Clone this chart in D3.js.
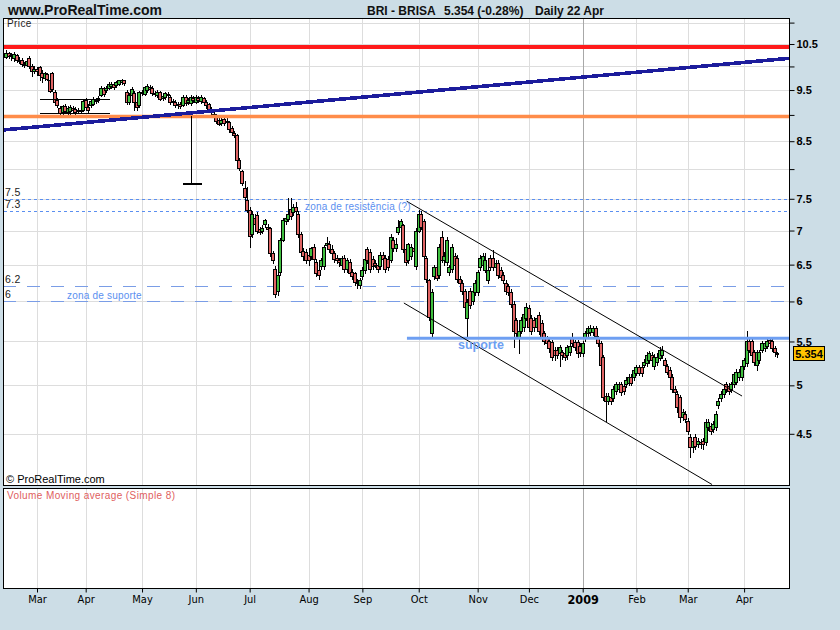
<!DOCTYPE html>
<html><head><meta charset="utf-8">
<script src="https://cdnjs.cloudflare.com/ajax/libs/d3/7.8.5/d3.min.js"></script>
<style>body{margin:0;background:#ccdde6;} svg{display:block;}</style>
</head><body><svg id="c" width="840" height="630"></svg>
<script>
// ---------- DATA ----------
const firstDay = "2008-02-14", lastDay = "2009-04-22";
const holidays = ["2008-03-21","2008-03-24","2008-05-01","2008-12-25","2008-12-26","2009-01-01","2009-04-10","2009-04-13"];
const monthLabels = ["Mar","Apr","May","Jun","Jul","Aug","Sep","Oct","Nov","Dec","2009","Feb","Mar","Apr"];
const yTicks = [11,10.5,10,9.5,9,8.5,8,7.5,7,6.5,6,5.5,5,4.5];
const yLabels = [10.5,9.5,8.5,7.5,7,6.5,6,5.5,5,4.5];

const open = [10.20,10.30,10.22,10.18,10.25,10.15,10.14,10.06,10.04,10.18,10.02,9.90,9.94,9.98,9.86,9.76,9.84,9.72,9.85,9.46,
9.30,9.14,9.06,9.18,9.06,9.08,9.14,9.12,9.08,9.10,9.10,9.30,9.16,9.20,9.22,9.28,9.30,9.40,9.54,9.50,
9.55,9.58,9.62,9.60,9.62,9.66,9.70,9.46,9.26,9.40,9.44,9.26,9.20,9.44,9.42,9.50,9.56,9.54,9.44,9.40,
9.46,9.34,9.36,9.42,9.36,9.26,9.26,9.20,9.22,9.20,9.36,9.26,9.24,9.34,9.26,9.34,9.28,9.34,9.26,9.22,
9.12,9.02,8.98,8.90,8.84,8.92,8.86,8.86,8.74,8.66,8.62,8.16,7.96,7.68,7.48,7.32,6.94,7.20,7.24,7.02,
7.00,7.10,7.06,7.04,6.66,6.44,6.14,6.40,6.86,7.14,7.18,7.34,7.28,7.36,7.26,6.94,6.70,6.68,6.64,6.62,
6.76,6.54,6.42,6.48,6.48,6.78,6.80,6.72,6.66,6.60,6.56,6.50,6.60,6.44,6.54,6.40,6.38,6.26,6.22,6.34,
6.42,6.72,6.68,6.58,6.52,6.50,6.48,6.64,6.60,6.58,6.57,6.86,6.74,6.98,7.06,7.08,6.72,6.56,6.62,6.74,
6.48,7.00,7.26,7.14,6.60,6.28,5.60,6.34,6.46,6.36,6.90,6.56,6.54,6.40,6.44,6.62,6.60,6.30,6.24,6.14,
5.79,6.14,6.01,6.13,6.13,6.47,6.50,6.43,6.29,6.60,6.60,6.46,6.53,6.43,6.36,6.25,6.20,6.13,5.97,5.76,
5.55,5.63,5.67,5.79,5.91,5.79,5.76,5.67,5.82,5.72,5.60,5.54,5.51,5.49,5.40,5.40,5.36,5.37,5.36,5.34,
5.37,5.54,5.49,5.49,5.45,5.36,5.54,5.60,5.61,5.62,5.66,5.54,5.48,5.32,4.89,4.83,4.88,4.86,4.94,4.96,
5.01,4.99,5.01,5.03,5.09,5.09,5.14,5.20,5.20,5.23,5.25,5.28,5.34,5.21,5.26,5.31,5.34,5.28,5.21,5.17,
5.09,4.96,4.91,4.88,4.67,4.70,4.63,4.47,4.37,4.47,4.40,4.42,4.43,4.42,4.57,4.58,4.55,4.57,4.79,4.86,
4.91,5.01,4.99,4.96,5.01,5.04,5.09,5.09,5.21,5.25,5.51,5.51,5.37,5.23,5.28,5.40,5.42,5.45,5.52,5.51,
5.42,5.36];
const high = [10.36,10.33,10.30,10.32,10.28,10.20,10.18,10.10,10.15,10.22,10.05,10.00,9.98,10.00,9.92,9.88,9.86,9.75,9.88,9.50,
9.34,9.18,9.20,9.22,9.18,9.20,9.18,9.16,9.14,9.12,9.32,9.34,9.22,9.30,9.36,9.34,9.38,9.58,9.56,9.58,
9.66,9.66,9.66,9.68,9.72,9.74,9.72,9.50,9.44,9.56,9.48,9.30,9.48,9.50,9.58,9.62,9.60,9.58,9.48,9.50,
9.48,9.42,9.46,9.46,9.40,9.32,9.30,9.26,9.26,9.40,9.40,9.34,9.40,9.38,9.40,9.38,9.40,9.36,9.30,9.24,
9.16,9.06,9.02,8.94,8.94,8.96,8.94,8.88,8.78,8.70,8.64,8.20,7.98,7.80,7.70,7.36,7.30,7.26,7.28,7.06,
7.08,7.18,7.10,7.06,6.70,6.48,6.40,6.88,7.20,7.24,7.52,7.52,7.42,7.44,7.30,6.98,6.74,6.72,6.68,6.76,
6.80,6.58,6.46,6.60,6.78,6.90,6.84,6.78,6.70,6.64,6.60,6.62,6.64,6.60,6.58,6.44,6.40,6.30,6.32,6.46,
6.62,6.76,6.72,6.62,6.56,6.54,6.68,6.68,6.64,6.62,6.94,6.90,6.88,7.16,7.18,7.10,6.74,6.82,6.80,6.78,
7.04,7.32,7.30,7.18,6.62,6.30,6.16,6.50,6.50,6.80,7.00,6.68,6.90,6.50,6.80,6.66,6.64,6.34,6.28,6.16,
6.03,6.18,6.18,6.29,6.43,6.64,6.66,6.67,6.47,6.64,6.71,6.57,6.57,6.46,6.40,6.29,6.23,6.16,6.00,5.79,
5.67,5.80,5.88,5.98,5.95,5.82,5.80,5.82,5.86,5.76,5.63,5.57,5.54,5.52,5.44,5.43,5.46,5.40,5.39,5.46,
5.48,5.60,5.52,5.52,5.48,5.51,5.63,5.69,5.70,5.69,5.69,5.57,5.50,5.34,4.92,4.92,4.91,4.99,5.04,5.04,
5.04,5.02,5.09,5.12,5.12,5.20,5.23,5.23,5.22,5.29,5.37,5.39,5.37,5.35,5.36,5.43,5.45,5.31,5.24,5.20,
5.12,4.99,4.94,4.90,4.75,4.73,4.66,4.50,4.46,4.50,4.46,4.45,4.46,4.65,4.65,4.61,4.63,4.73,4.86,4.94,
4.99,5.04,5.02,5.04,5.15,5.18,5.18,5.24,5.31,5.63,5.55,5.54,5.40,5.40,5.40,5.51,5.51,5.54,5.55,5.54,
5.45,5.38];
const low = [10.18,10.18,10.15,10.12,10.10,10.08,10.02,9.98,10.00,9.96,9.80,9.86,9.82,9.72,9.66,9.72,9.70,9.45,9.48,9.20,
9.15,9.00,9.02,9.04,9.02,9.00,9.05,9.02,9.04,9.04,9.08,9.12,9.06,9.16,9.20,9.24,9.26,9.38,9.38,9.46,
9.52,9.55,9.52,9.56,9.60,9.62,9.60,9.22,9.22,9.36,9.10,9.10,9.16,9.40,9.40,9.46,9.48,9.40,9.38,9.36,
9.30,9.30,9.32,9.36,9.22,9.20,9.16,9.14,9.14,9.18,9.20,9.22,9.20,9.26,9.24,9.26,9.24,9.22,9.14,9.06,
9.02,8.92,8.84,8.80,8.80,8.80,8.82,8.68,8.64,8.58,8.12,7.98,7.72,7.50,7.28,6.76,6.90,7.04,6.96,6.94,
6.96,7.06,6.86,6.62,6.52,6.06,6.08,6.36,6.84,7.10,7.14,7.18,7.24,7.24,6.90,6.64,6.56,6.52,6.50,6.58,
6.54,6.34,6.30,6.44,6.44,6.74,6.68,6.62,6.54,6.52,6.48,6.46,6.40,6.40,6.34,6.30,6.22,6.18,6.18,6.30,
6.38,6.52,6.40,6.44,6.46,6.40,6.44,6.54,6.40,6.42,6.54,6.70,6.70,6.94,7.02,6.68,6.50,6.52,6.58,6.64,
6.44,6.98,7.02,6.58,6.26,5.76,5.55,6.30,6.28,6.32,6.54,6.50,6.50,6.36,6.40,6.46,6.26,6.20,6.10,5.89,
5.55,5.91,5.97,6.09,6.09,6.43,6.46,6.39,6.25,6.43,6.42,6.42,6.32,6.29,6.25,6.10,6.09,5.93,5.43,5.55,
5.36,5.60,5.63,5.76,5.63,5.59,5.63,5.63,5.59,5.51,5.47,5.44,5.38,5.28,5.28,5.31,5.21,5.30,5.28,5.30,
5.34,5.45,5.40,5.32,5.33,5.33,5.51,5.57,5.58,5.58,5.54,5.45,5.19,4.84,4.63,4.80,4.80,4.83,4.91,4.93,
4.90,4.91,4.98,5.00,5.00,5.06,5.11,5.11,5.10,5.20,5.22,5.25,5.25,5.18,5.23,5.28,5.31,5.20,5.12,5.06,
4.93,4.90,4.72,4.62,4.64,4.62,4.50,4.28,4.33,4.35,4.37,4.36,4.35,4.39,4.54,4.50,4.52,4.54,4.76,4.83,
4.88,4.93,4.91,4.93,4.98,5.01,5.06,5.06,5.18,5.22,5.37,5.30,5.23,5.17,5.25,5.37,5.39,5.42,5.45,5.39,
5.33,5.32];
const close = [10.30,10.22,10.26,10.28,10.15,10.12,10.06,10.04,10.12,10.00,9.90,9.95,9.90,9.82,9.78,9.86,9.74,9.48,9.52,9.26,
9.20,9.04,9.18,9.08,9.14,9.16,9.10,9.06,9.10,9.08,9.28,9.16,9.10,9.28,9.32,9.30,9.34,9.54,9.42,9.55,
9.62,9.62,9.56,9.66,9.70,9.70,9.64,9.26,9.40,9.52,9.26,9.16,9.46,9.46,9.56,9.58,9.52,9.44,9.42,9.46,
9.32,9.38,9.44,9.40,9.26,9.28,9.20,9.22,9.18,9.36,9.24,9.30,9.36,9.30,9.36,9.30,9.36,9.26,9.20,9.12,
9.06,8.96,8.88,8.82,8.90,8.84,8.88,8.72,8.68,8.62,8.16,8.02,7.76,7.53,7.32,6.92,7.26,7.10,7.00,6.98,
7.04,7.16,7.02,6.66,6.56,6.10,6.36,6.86,7.16,7.20,7.26,7.22,7.36,7.30,6.94,6.68,6.62,6.56,6.56,6.74,
6.58,6.38,6.36,6.56,6.76,6.82,6.72,6.66,6.58,6.56,6.54,6.60,6.44,6.56,6.38,6.34,6.26,6.24,6.28,6.42,
6.58,6.56,6.44,6.48,6.50,6.44,6.64,6.58,6.44,6.46,6.90,6.74,6.80,7.06,7.14,6.72,6.54,6.80,6.76,6.70,
7.00,7.26,7.06,6.62,6.30,5.80,6.12,6.46,6.32,6.76,6.57,6.62,6.86,6.46,6.76,6.50,6.30,6.25,6.14,5.93,
5.99,5.95,6.14,6.25,6.39,6.60,6.62,6.57,6.43,6.47,6.46,6.53,6.36,6.33,6.29,6.14,6.13,5.97,5.63,5.60,
5.63,5.76,5.84,5.93,5.67,5.63,5.67,5.79,5.63,5.55,5.51,5.48,5.42,5.32,5.34,5.34,5.43,5.34,5.32,5.43,
5.45,5.48,5.43,5.36,5.37,5.48,5.60,5.66,5.66,5.66,5.57,5.48,5.23,4.88,4.83,4.89,4.83,4.96,5.01,5.01,
4.93,4.94,5.06,5.09,5.03,5.17,5.20,5.14,5.14,5.26,5.34,5.36,5.28,5.32,5.32,5.40,5.40,5.23,5.15,5.09,
4.96,4.93,4.77,4.67,4.72,4.65,4.53,4.37,4.43,4.38,4.43,4.40,4.40,4.62,4.62,4.53,4.60,4.70,4.83,4.91,
4.96,4.96,4.94,5.01,5.12,5.15,5.15,5.21,5.28,5.51,5.40,5.34,5.26,5.37,5.37,5.48,5.48,5.51,5.48,5.42,
5.37,5.354];

// drawn levels and lines (price values, bar indices)
const redLevel = 10.43, orangeLevel = 8.97;
const resistLevels = [7.5, 7.3];
const supportLevels = [6.2, 6.0];
const suporteLevel = 5.54, suporteStart = 156.4;
const navyLine = [[-1.3, 8.71], [305.9, 10.18]];
const channelUpper = [[156.3, 7.46], [287.2, 4.885]];
const channelLower = [[155.2, 5.98], [275.5, 4.03]];
const boxLines = [[[13.2, 9.31], [40.5, 9.31]], [[13.2, 9.02], [40.5, 9.02]]];
const measureLines = [[[72.4, 8.97], [72.4, 7.745]], [[69.0, 7.745], [76.4, 7.745]]];
const lastPrice = 5.354;

// ---------- LAYOUT ----------
const W = 840, H = 630;
const L = 3.5, R = 789.5, PT = 18.5, PB = 485.5, VT = 488.5, VB = 588.5;
const FONT = "'Liberation Sans', Arial, sans-serif";
const NARROW = "'Liberation Sans Narrow', 'Arial Narrow', 'DejaVu Sans Condensed', sans-serif";

const fmt = d3.utcFormat("%Y-%m-%d");
const dates = d3.utcDay.range(new Date(firstDay + "T00:00:00Z"), d3.utcDay.offset(new Date(lastDay + "T00:00:00Z"), 1))
  .filter(d => d.getUTCDay() !== 0 && d.getUTCDay() !== 6 && !holidays.includes(fmt(d)));
const n = close.length;
const monthIdx = [];
for (let k = 1; k < dates.length; k++) if (dates[k].getUTCMonth() !== dates[k-1].getUTCMonth()) monthIdx.push(k);

const x = d3.scaleLinear().domain([0, 301]).range([6.26, 777.4]);
const y = d3.scaleLog().domain([4.5, 10.5]).range([433.8, 44]);

const svg = d3.select("#c");
svg.append("rect").attr("width", W).attr("height", H).attr("fill", "#ccdde6");

// header
svg.append("text").attr("x", 8).attr("y", 15).attr("font-family", FONT).attr("font-weight", "bold")
  .attr("font-size", 14).attr("fill", "#111").text("www.ProRealTime.com");
[["BRI - BRISA", 367], ["5.354 (-0.28%)", 444], ["Daily", 535], ["22 Apr", 567]].forEach(([t, xx]) => {
  svg.append("text").attr("x", xx).attr("y", 14.5).attr("font-family", FONT).attr("font-weight", "bold")
    .attr("font-size", 12).attr("fill", "#111").text(t);
});

// panels
svg.append("rect").attr("x", L).attr("y", PT).attr("width", R - L).attr("height", PB - PT).attr("fill", "#fff");
svg.append("rect").attr("x", L).attr("y", VT).attr("width", R - L).attr("height", VB - VT).attr("fill", "#fff");

const px = v => Math.round(v) + 0.5;

// grid
const grid = svg.append("g").attr("shape-rendering", "crispEdges");
yTicks.forEach(t => {
  grid.append("line").attr("x1", L).attr("x2", R).attr("y1", px(y(t))).attr("y2", px(y(t))).attr("stroke", "#dddddd");
});
monthIdx.forEach((i, k) => {
  const c = monthLabels[k] === "2009" ? "#a8a8a8" : "#dddddd";
  grid.append("line").attr("x1", px(x(i))).attr("x2", px(x(i))).attr("y1", PT).attr("y2", PB).attr("stroke", c);
  grid.append("line").attr("x1", px(x(i))).attr("x2", px(x(i))).attr("y1", VT).attr("y2", VB).attr("stroke", c);
});

svg.append("clipPath").attr("id", "clipP").append("rect").attr("x", L).attr("y", PT).attr("width", R - L).attr("height", PB - PT);
const plot = svg.append("g").attr("clip-path", "url(#clipP)");

// dashed levels
resistLevels.forEach(v => {
  plot.append("line").attr("x1", L).attr("x2", R).attr("y1", px(y(v))).attr("y2", px(y(v)))
    .attr("stroke", "#5b8ff0").attr("stroke-dasharray", "3,3").attr("shape-rendering", "crispEdges");
});
supportLevels.forEach(v => {
  plot.append("line").attr("x1", L).attr("x2", R).attr("y1", px(y(v))).attr("y2", px(y(v)))
    .attr("stroke", "#7a9de6").attr("stroke-dasharray", "13,11").attr("stroke-dashoffset", 0.8)
    .attr("shape-rendering", "crispEdges");
});

// candles
const cg = plot.append("g").attr("shape-rendering", "crispEdges");
for (let i = 0; i < n; i++) {
  const cx = Math.round(x(i));
  cg.append("line").attr("x1", cx + 0.5).attr("x2", cx + 0.5).attr("y1", Math.round(y(high[i]))).attr("y2", Math.round(y(low[i])) + 1)
    .attr("stroke", "#000");
  const y0 = Math.round(y(Math.max(open[i], close[i]))), y1 = Math.round(y(Math.min(open[i], close[i])));
  cg.append("rect").attr("x", cx - 1.5).attr("y", y0 + 0.5).attr("width", 3).attr("height", Math.max(1, y1 - y0))
    .attr("fill", close[i] >= open[i] ? "#3fbf3f" : "#e06464").attr("stroke", "#000").attr("stroke-width", 1);
}

// drawn lines
const seg = (pts, color, w, crisp) => plot.append("line")
  .attr("x1", x(pts[0][0])).attr("y1", y(pts[0][1])).attr("x2", x(pts[1][0])).attr("y2", y(pts[1][1]))
  .attr("stroke", color).attr("stroke-width", w).attr("shape-rendering", crisp ? "crispEdges" : "auto");

plot.append("line").attr("x1", L).attr("x2", R).attr("y1", y(redLevel)).attr("y2", y(redLevel)).attr("stroke", "#ff1a1a").attr("stroke-width", 4);
plot.append("line").attr("x1", L).attr("x2", R).attr("y1", y(orangeLevel)).attr("y2", y(orangeLevel)).attr("stroke", "#ff8c4a").attr("stroke-width", 3.5);
seg(navyLine, "#1c1c9c", 3.6, true);
plot.append("line").attr("x1", x(suporteStart)).attr("x2", R).attr("y1", y(suporteLevel)).attr("y2", y(suporteLevel)).attr("stroke", "#6e9ff2").attr("stroke-width", 3);
seg(channelUpper, "#000", 1, false);
seg(channelLower, "#000", 1, false);
boxLines.forEach(p => seg(p, "#000", 1.2, true));
measureLines.forEach(p => seg(p, "#000", 1.2, true));

// panel borders
svg.append("rect").attr("x", L).attr("y", PT).attr("width", R - L).attr("height", PB - PT).attr("fill", "none").attr("stroke", "#000").attr("shape-rendering", "crispEdges");
svg.append("rect").attr("x", L).attr("y", VT).attr("width", R - L).attr("height", VB - VT).attr("fill", "none").attr("stroke", "#000").attr("shape-rendering", "crispEdges");

// in-panel texts
const small = (t, xx, yy, col, size, extra) => {
  const s = svg.append("text").attr("x", xx).attr("y", yy).attr("font-family", FONT).attr("font-size", size || 10)
    .attr("fill", col).attr("letter-spacing", 0.4).text(t);
  if (extra) extra(s);
  return s;
};
small("Price", 7, 27, "#222", 10);
small("7.5", 5, y(7.5) - 3, "#222", 10.5);
small("7.3", 5, y(7.3) - 3, "#222", 10.5);
small("6.2", 5, y(6.2) - 3, "#222", 10.5);
small("6", 5, y(6.0) - 3, "#222", 10.5);
small("zona de resistência (?)", 305, y(7.3) - 1, "#5b8ff0", 10, s => s.attr("letter-spacing", 0.2));
small("zona de suporte", 67, y(6.0) - 2, "#5b8ff0", 10, s => s.attr("letter-spacing", 0.2));
svg.append("text").attr("x", 458).attr("y", 349).attr("font-family", FONT).attr("font-weight", "bold")
  .attr("font-size", 12.5).attr("fill", "#6e9ff2").text("suporte");
svg.append("text").attr("x", 6).attr("y", 483).attr("font-family", FONT).attr("font-size", 11).attr("fill", "#000").text("© ProRealTime.com");
small("Volume Moving average (Simple 8)", 7, 499, "#e06060", 10);

// right axis
const yAxis = d3.axisRight(y).tickValues(yTicks).tickSize(5).tickPadding(2)
  .tickFormat(d => yLabels.includes(d) ? String(d) : "");
const ga = svg.append("g").attr("transform", `translate(${R},0)`).call(yAxis);
ga.select(".domain").remove();
ga.selectAll("line").attr("stroke", "#000");
ga.selectAll("text").attr("font-family", FONT).attr("font-weight", "bold").attr("font-size", 11).attr("fill", "#000");

// last price badge
const by = Math.round(y(lastPrice));
svg.append("rect").attr("x", 793.5).attr("y", by - 7.5).attr("width", 31).attr("height", 14)
  .attr("fill", "#ffc400").attr("stroke", "#000").attr("shape-rendering", "crispEdges");
svg.append("text").attr("x", 809).attr("y", by + 4).attr("text-anchor", "middle").attr("font-family", FONT)
  .attr("font-weight", "bold").attr("font-size", 11).attr("fill", "#000").text(String(lastPrice));

// bottom axis
const xAxis = d3.axisBottom(x).tickValues(monthIdx).tickSize(4).tickPadding(3)
  .tickFormat((d, k) => monthLabels[k]);
const gx = svg.append("g").attr("transform", `translate(0,${VB})`).call(xAxis);
gx.select(".domain").remove();
gx.selectAll("line").attr("stroke", "#000");
gx.selectAll("text").attr("font-family", NARROW).attr("fill", "#000")
  .attr("font-weight", (d, k) => monthLabels[k] === "2009" ? "bold" : "normal")
  .attr("font-size", (d, k) => monthLabels[k] === "2009" ? 12.5 : 11);
</script>
</body></html>
